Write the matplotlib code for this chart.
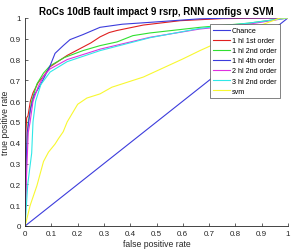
import matplotlib as mpl
import matplotlib.pyplot as plt
import numpy as np

mpl.use("Agg")

# ROC curves (false positive rate, true positive rate)
chance_fpr = [0.0, 1.0]
chance_tpr = [0.0, 1.0]

hl1_1st_fpr = [0.0, 0.003, 0.006, 0.011, 0.02, 0.03, 0.05, 0.07, 0.095, 0.13, 0.16, 0.22, 0.25, 0.285, 0.32, 0.35, 0.45, 0.59, 0.75, 1.0]
hl1_1st_tpr = [0.0, 0.45, 0.52, 0.53, 0.6, 0.64, 0.69, 0.72, 0.765, 0.795, 0.82, 0.86, 0.88, 0.909, 0.93, 0.94, 0.966, 0.987, 0.997, 1.0]

hl1_2nd_fpr = [0.0, 0.005, 0.012, 0.025, 0.045, 0.07, 0.095, 0.15, 0.22, 0.285, 0.35, 0.41, 0.475, 0.665, 0.85, 1.0]
hl1_2nd_tpr = [0.0, 0.35, 0.5, 0.6, 0.683, 0.735, 0.77, 0.81, 0.843, 0.867, 0.885, 0.915, 0.928, 0.955, 0.975, 1.0]

hl1_4th_fpr = [0.0, 0.004, 0.008, 0.02, 0.035, 0.057, 0.075, 0.095, 0.114, 0.145, 0.171, 0.22, 0.285, 0.37, 0.475, 0.665, 0.8, 1.0]
hl1_4th_tpr = [0.0, 0.3, 0.45, 0.56, 0.63, 0.675, 0.72, 0.77, 0.83, 0.867, 0.896, 0.92, 0.955, 0.97, 0.979, 0.996, 1.0, 1.0]

hl2_2nd_fpr = [0.0, 0.004, 0.012, 0.019, 0.03, 0.05, 0.07, 0.095, 0.16, 0.285, 0.475, 0.665, 0.85, 1.0]
hl2_2nd_tpr = [0.0, 0.2, 0.45, 0.5, 0.6, 0.67, 0.72, 0.755, 0.8, 0.85, 0.907, 0.947, 0.97, 1.0]

hl3_2nd_fpr = [0.0, 0.01, 0.025, 0.03, 0.04, 0.06, 0.095, 0.16, 0.285, 0.475, 0.665, 0.85, 1.0]
hl3_2nd_tpr = [0.0, 0.2, 0.35, 0.5, 0.6, 0.68, 0.74, 0.79, 0.843, 0.905, 0.95, 0.975, 1.0]

svm_fpr = [0.0, 0.019, 0.045, 0.07, 0.089, 0.114, 0.127, 0.145, 0.16, 0.2, 0.235, 0.285, 0.33, 0.45, 0.6, 0.665, 0.8, 0.943, 0.97, 1.0]
svm_tpr = [0.0, 0.098, 0.194, 0.31, 0.355, 0.394, 0.42, 0.453, 0.5, 0.585, 0.615, 0.635, 0.667, 0.716, 0.803, 0.843, 0.92, 0.987, 1.0, 1.0]

ticks = np.round(np.arange(0, 1.01, 0.1), 1)
tick_labels = ["0", "0.1", "0.2", "0.3", "0.4", "0.5", "0.6", "0.7", "0.8", "0.9", "1"]

plt.rcParams["font.family"] = ["Liberation Sans", "DejaVu Sans"]

fig = plt.figure(figsize=(2.92, 2.53), dpi=100)
ax = fig.add_axes((0.086, 0.103, 0.9, 0.822))

curves = [
    (chance_fpr, chance_tpr, "#3c3cdc", "Chance"),
    (hl1_1st_fpr, hl1_1st_tpr, "#e02020", "1 hl 1st order"),
    (hl1_2nd_fpr, hl1_2nd_tpr, "#30e030", "1 hl 2nd order"),
    (hl1_4th_fpr, hl1_4th_tpr, "#3c3cdc", "1 hl 4th order"),
    (hl2_2nd_fpr, hl2_2nd_tpr, "#e030e0", "2 hl 2nd order"),
    (hl3_2nd_fpr, hl3_2nd_tpr, "#30e8e8", "3 hl 2nd order"),
    (svm_fpr, svm_tpr, "#f8f830", "svm"),
]
for fpr, tpr, col, lab in curves:
    ax.plot(fpr, tpr, color=col, lw=0.8, label=lab)

ax.set_xlim(0, 1)
ax.set_ylim(0, 1)
ax.set_xticks(ticks)
ax.set_xticklabels(tick_labels)
ax.set_yticks(ticks)
ax.set_yticklabels(tick_labels)
ax.tick_params(direction="in", length=2.5, width=0.5, labelsize=5.8, colors="#262626", pad=3)
for side in ["top", "right"]:
    ax.spines[side].set_visible(False)
for side in ["left", "bottom"]:
    ax.spines[side].set_color("#262626")
    ax.spines[side].set_linewidth(0.6)

ax.set_title("RoCs 10dB fault impact 9 rsrp, RNN configs v SVM", fontsize=7.0, fontweight="bold", pad=3)
ax.set_xlabel("false positive rate", fontsize=6.2, color="#262626", labelpad=1.5)
ax.set_ylabel("true positive rate", fontsize=6.2, color="#262626", labelpad=0)

leg = ax.legend(loc="upper right", bbox_to_anchor=(0.97, 0.972), bbox_transform=ax.transAxes,
                fontsize=5.2, frameon=True, fancybox=False, edgecolor="#505050", framealpha=1,
                handlelength=2.3, handletextpad=0.35, borderpad=0.45, labelspacing=0.42,
                borderaxespad=0)
leg.get_frame().set_linewidth(0.5)

fig.savefig("out.png", dpi=100)
